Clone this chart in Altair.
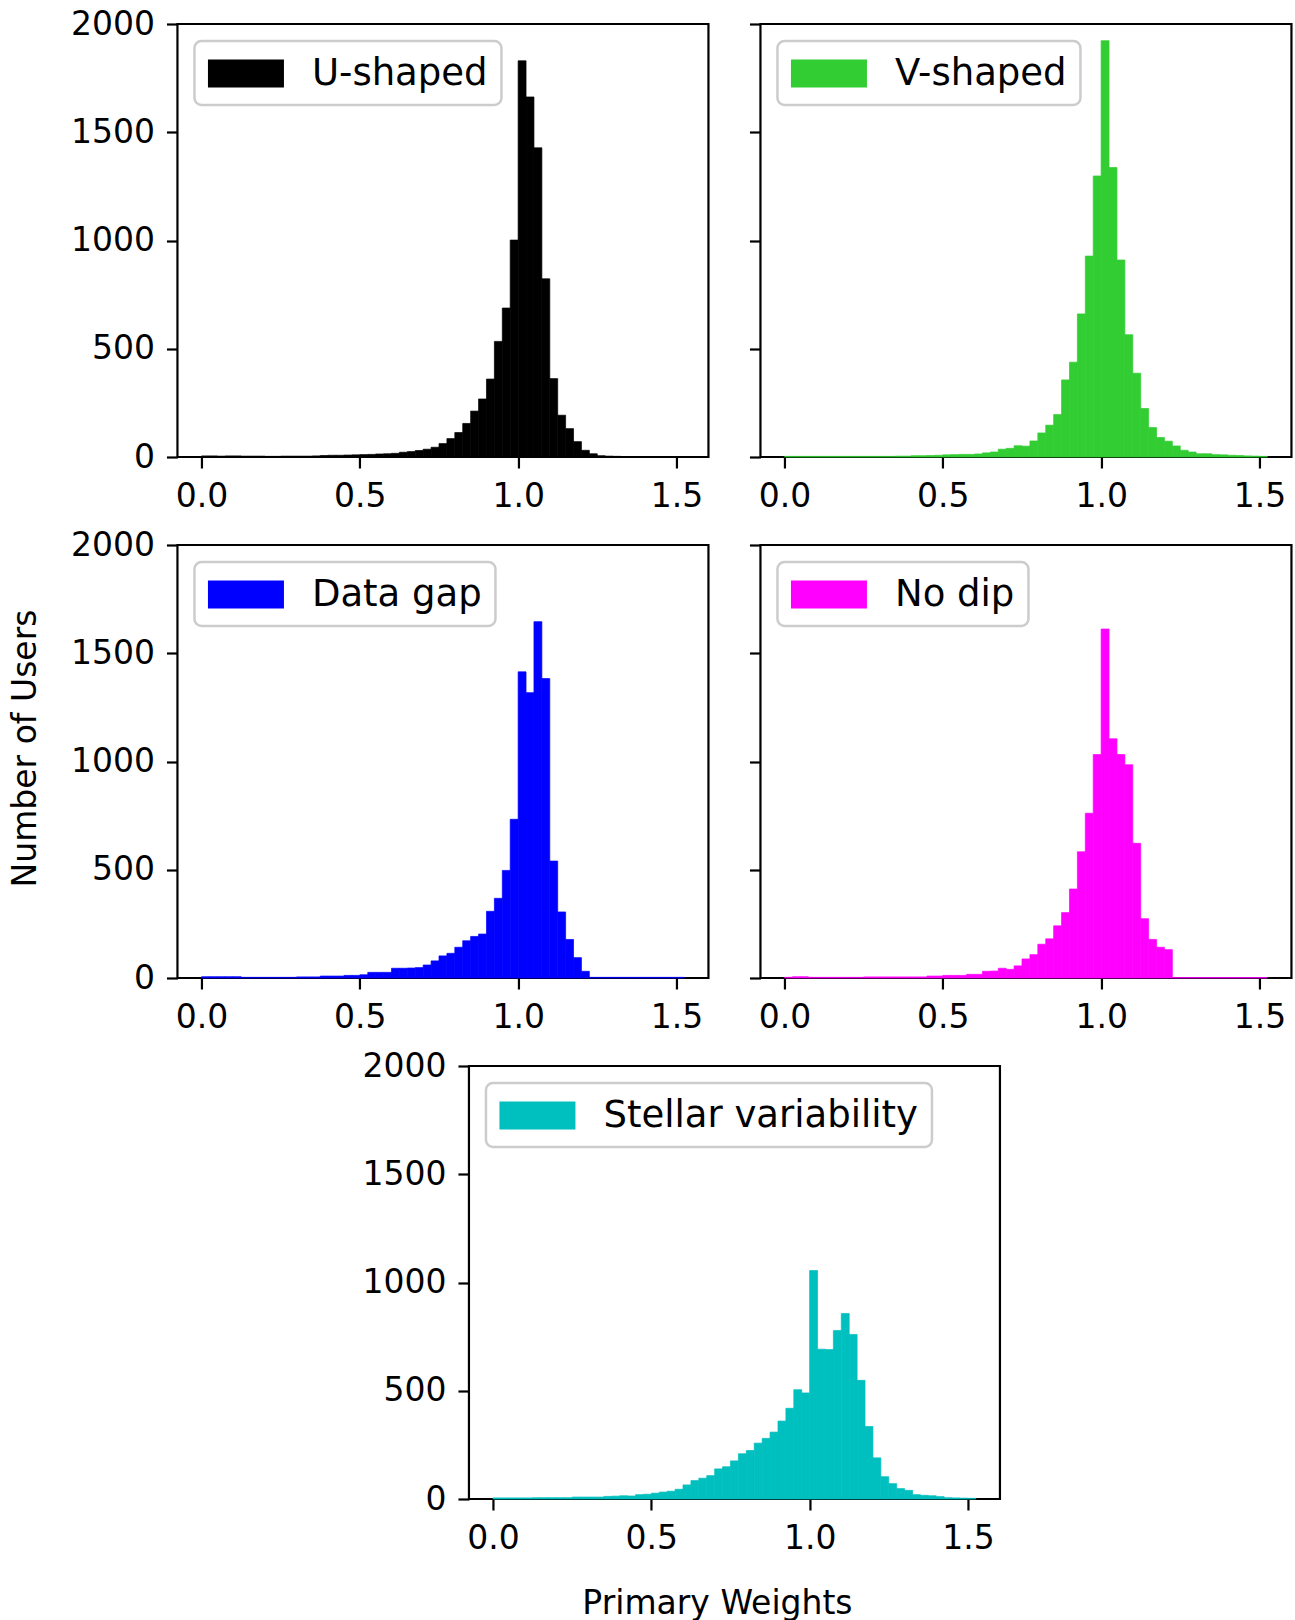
import altair as alt
import pandas as pd

# ---------------- data ----------------
BIN_WIDTH = 0.025
N_BINS = 61
bin_starts = [round(i * BIN_WIDTH, 4) for i in range(N_BINS)]

categories = ["U-shaped", "V-shaped", "Data gap", "No dip", "Stellar variability"]
colors = ["#000000", "#32cd32", "#0000ff", "#ff00ff", "#00bfbf"]

u_shaped = [5, 5, 4, 5, 5, 4, 4, 4, 3, 3,
            4, 4, 4, 4, 5, 7, 8, 8, 9, 10,
            11, 12, 14, 15, 17, 22, 25, 30, 36, 45,
            62, 85, 113, 155, 212, 268, 360, 534, 688, 1002,
            1830, 1663, 1428, 823, 362, 193, 131, 71, 31, 15,
            6, 4, 3, 2, 2, 2, 2, 2, 2, 2, 1]
v_shaped = [3, 3, 3, 3, 3, 3, 3, 3, 3, 3,
            3, 3, 3, 3, 4, 4, 6, 6, 7, 8,
            10, 11, 12, 12, 14, 19, 23, 36, 40, 52,
            50, 74, 111, 147, 196, 356, 438, 661, 928, 1298,
            1923, 1337, 910, 565, 387, 224, 136, 90, 73, 51,
            31, 23, 15, 15, 11, 10, 8, 7, 5, 4, 3]
data_gap = [6, 6, 6, 6, 6, 3, 3, 3, 3, 3,
            3, 3, 5, 5, 5, 9, 9, 9, 12, 12,
            15, 26, 26, 26, 45, 45, 46, 48, 60, 79,
            102, 114, 142, 172, 192, 203, 308, 368, 497, 733,
            1414, 1318, 1646, 1383, 540, 305, 178, 94, 31, 3,
            3, 3, 3, 3, 3, 3, 3, 3, 3, 3, 3]
no_dip = [3, 6, 6, 3, 3, 3, 3, 3, 3, 3,
          5, 5, 5, 5, 5, 5, 5, 5, 9, 9,
          12, 12, 12, 17, 17, 31, 32, 45, 40, 56,
          88, 108, 156, 181, 241, 302, 411, 583, 761, 1032,
          1612, 1105, 1032, 985, 622, 274, 178, 142, 131, 2,
          2, 2, 2, 2, 2, 2, 2, 2, 2, 2, 2]
stellar = [5, 5, 5, 5, 5, 6, 6, 6, 6, 6,
           9, 9, 9, 9, 12, 13, 15, 14, 20, 22,
           27, 32, 36, 45, 65, 85, 96, 108, 139, 149,
           176, 209, 224, 258, 280, 309, 360, 419, 505, 490,
           1055, 692, 690, 778, 857, 760, 548, 335, 190, 103,
           71, 48, 40, 20, 17, 15, 11, 6, 5, 4, 3]

series = [u_shaped, v_shaped, data_gap, no_dip, stellar]

x_ticks = [0.0, 0.5, 1.0, 1.5]
y_ticks = [0, 500, 1000, 1500, 2000]
x_domain = [-0.07625, 1.60125]
y_domain = [0, 2000]

# ---------------- styling ----------------
FONT = "DejaVu Sans"
W, H = 531, 433
# wide legend patch: 76 px wide, 28 px tall with symbolSize 38^2
RECT_PATH = "M-2,-0.737L2,-0.737L2,0.737L-2,0.737Z"


def panel(idx, ylabels=True, ytitle=None, ytitle_y=None, xtitle=None):
    name = categories[idx]
    df = pd.DataFrame({
        "start": bin_starts,
        "end": [s + BIN_WIDTH for s in bin_starts],
        "count": series[idx],
        "cat": [name] * N_BINS,
    })
    xaxis_kw = dict(values=x_ticks, format=".1f")
    if xtitle:
        xaxis_kw.update(title=xtitle, titleX=248, titleY=114, titleAlign="center",
                        titleBaseline="alphabetic")
    else:
        xaxis_kw.update(title=None)
    yaxis_kw = dict(values=y_ticks, format="d", labels=ylabels)
    if ytitle is not None:
        yaxis_kw.update(title=ytitle, titleX=-142, titleAngle=270,
                        titleBaseline="alphabetic", titleAlign="center")
        if ytitle_y is not None:
            yaxis_kw.update(titleY=ytitle_y)
    else:
        yaxis_kw.update(title=None)

    return alt.Chart(df).mark_rect(stroke=colors[idx], strokeWidth=0.7).encode(
        x=alt.X("start:Q", scale=alt.Scale(domain=x_domain, nice=False, zero=False),
                axis=alt.Axis(**xaxis_kw)),
        x2="end:Q",
        y=alt.Y("count:Q", scale=alt.Scale(domain=y_domain, nice=False),
                axis=alt.Axis(**yaxis_kw)),
        y2=alt.datum(0),
        color=alt.Color("cat:N", scale=alt.Scale(domain=[name], range=[colors[idx]]),
                        legend=alt.Legend(title=None, orient="top-left")),
    ).properties(width=W, height=H)


p1 = panel(0, ylabels=True, ytitle=" ")
p2 = panel(1, ylabels=False)
p3 = panel(2, ylabels=True, ytitle="Number of Users", ytitle_y=203)
p4 = panel(3, ylabels=False)
p5 = panel(4, ylabels=True, ytitle=" ", xtitle="Primary Weights")

row1 = alt.hconcat(p1, p2, spacing=36).resolve_scale(color="independent")
row2 = alt.hconcat(p3, p4, spacing=36).resolve_scale(color="independent")

chart = alt.vconcat(row1, row2, p5, spacing=12, center=True).resolve_scale(
    color="independent"
).properties(
    padding={"left": 8, "top": 6, "right": 0, "bottom": 0},
    background="white",
).configure_view(
    stroke="black", strokeWidth=2.2
).configure_axis(
    domain=False, grid=False,
    ticks=True, tickColor="black", tickWidth=2.2, tickSize=11,
    labelFont=FONT, labelFontSize=33, labelColor="black", labelPadding=12,
    titleFont=FONT, titleFontSize=33, titleColor="black", titleFontWeight="normal",
).configure_legend(
    offset=17, padding=13.5, cornerRadius=7,
    fillColor="rgba(255,255,255,0.8)", strokeColor="#cccccc", strokeWidth=2.5,
    symbolType=RECT_PATH, symbolSize=1444, symbolOffset=19,
    symbolStrokeWidth=0, symbolOpacity=1,
    labelFont=FONT, labelFontSize=37, labelColor="black", labelOffset=47,
    labelLimit=600,
)

chart.save("out.html", embed_options={"renderer": "svg", "actions": False})
